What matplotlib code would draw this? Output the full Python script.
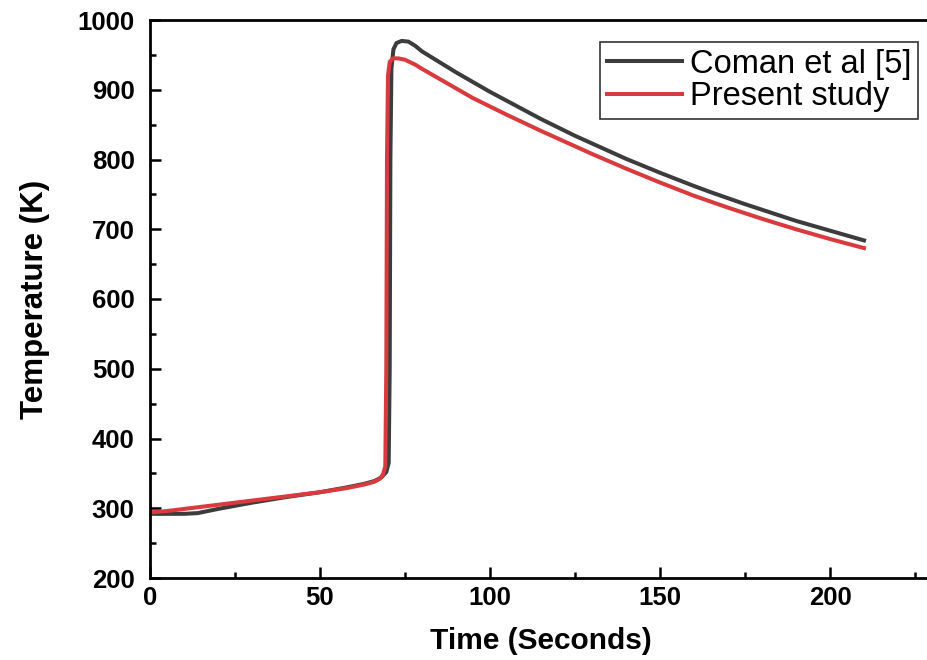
import matplotlib
matplotlib.use("Agg")
import matplotlib.pyplot as plt
from matplotlib.ticker import MultipleLocator

# Coman et al [5] temperature history
t_coman = [0, 5, 10, 14, 20, 30, 40, 50, 58, 63, 66, 68, 69.5, 70.2, 70.5, 70.7,
           71.0, 71.6, 72.5, 74, 76, 78,
           80, 85, 90, 95, 100, 105, 110, 115, 120, 125, 130, 135, 140, 145,
           150, 155, 160, 165, 170, 175, 180, 185, 190, 195, 200, 205, 210]
T_coman = [292, 292, 292, 293, 299, 308, 316, 323, 330, 335, 339, 344, 352, 365,
           500, 800, 930, 958, 967, 970, 969, 963,
           955, 940, 925, 911, 897, 884, 871, 858, 846, 834, 823, 812, 801, 791,
           781, 771.5, 762, 753, 744.5, 736, 728, 720, 712, 705, 698, 691, 684]

# present study
t_present = [0, 5, 10, 20, 30, 40, 50, 58, 63, 66, 67.5, 68.5, 69.2, 69.5, 69.7,
             70.0, 70.5, 71.5, 73, 75, 78,
             80, 85, 90, 95, 100, 105, 110, 115, 120, 125, 130, 135, 140, 145,
             150, 155, 160, 165, 170, 175, 180, 185, 190, 195, 200, 205, 210]
T_present = [294, 296, 299, 305, 311, 317, 323, 329, 334, 338, 342, 348, 360, 500,
             800, 920, 940, 945, 945, 943, 936,
             930, 916, 902, 888, 876, 864, 852.5, 841, 830, 819, 808, 797.5, 787, 777,
             767, 757.5, 748, 739.5, 731, 723, 715, 707.5, 700, 693, 686, 679.5, 673]

plt.rcParams['font.family'] = ['Liberation Sans', 'DejaVu Sans']

fig = plt.figure(figsize=(9.27, 6.60), dpi=100)
ax = fig.add_axes([150 / 927, 82 / 660, 782 / 927, 558 / 660])

ax.plot(t_coman, T_coman, color='#3c3c3c', lw=2.9, label='Coman et al [5]')
ax.plot(t_present, T_present, color='#d83a3e', lw=2.9, label='Present study')

ax.set_xlim(0, 230)
ax.set_ylim(200, 1000)
ax.xaxis.set_major_locator(MultipleLocator(50))
ax.xaxis.set_minor_locator(MultipleLocator(25))
ax.yaxis.set_major_locator(MultipleLocator(100))
ax.yaxis.set_minor_locator(MultipleLocator(50))

for s in ax.spines.values():
    s.set_linewidth(2.0)
ax.tick_params(which='both', direction='in', width=1.8, top=False, right=False)
ax.tick_params(which='major', length=8, labelsize=18.5, pad=6)
ax.tick_params(axis='y', which='major', pad=11)
ax.tick_params(which='minor', length=4)
for lab in ax.get_xticklabels() + ax.get_yticklabels():
    lab.set_fontweight('bold')

ax.set_xlabel('Time (Seconds)', fontsize=21.5, fontweight='bold', labelpad=12)
ax.set_ylabel('Temperature (K)', fontsize=22.5, fontweight='bold', labelpad=20)

leg = ax.legend(loc='upper left', bbox_to_anchor=(600 / 927, 1 - 42 / 660),
                bbox_transform=fig.transFigure, fontsize=23.5, frameon=True,
                fancybox=False, handlelength=2.3, handletextpad=0.25,
                borderpad=0.2, labelspacing=0.05, borderaxespad=0)
leg.get_frame().set_edgecolor('black')
leg.get_frame().set_linewidth(1.2)

fig.savefig('out.png', dpi=100)
